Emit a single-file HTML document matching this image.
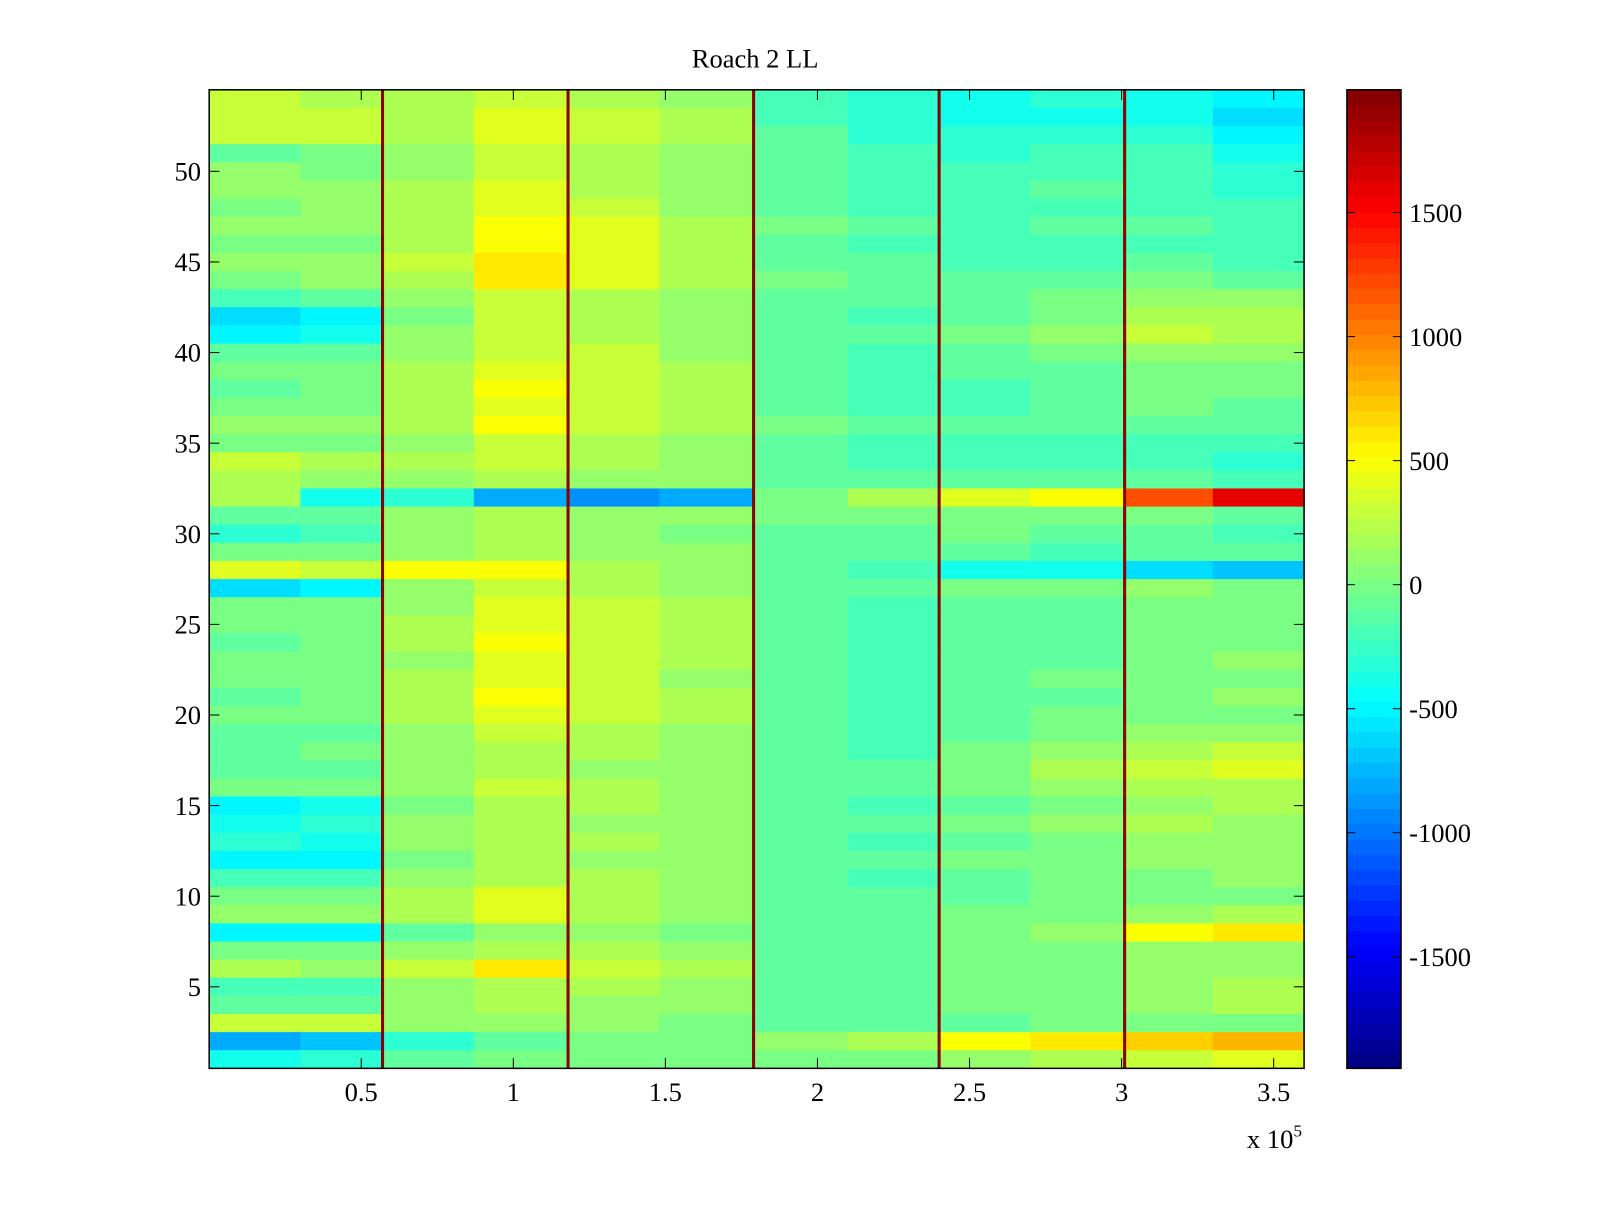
<!DOCTYPE html>
<html><head><meta charset="utf-8"><style>
html,body{margin:0;padding:0;background:#fff;}
svg text{font-family:"Liberation Serif",serif;font-size:26px;fill:#000;}
</style></head><body>
<svg id="fig" width="1600" height="1200" viewBox="0 0 1600 1200" xmlns="http://www.w3.org/2000/svg">
<rect width="1600" height="1200" fill="#fff"/>
<g transform="scale(1.0204)">
<text x="740" y="66" text-anchor="middle">Roach 2 LL</text>
<g id="heat"></g>
<g id="axes"></g>
<g id="cbar"></g>
</g>
</svg>
<script>
// segment boundaries along x (units of 1e5)
const segEdges = [0,0.3,0.57,0.87,1.18,1.48,1.79,2.1,2.4,2.7,3.01,3.3,3.6];
// values in hundreds; rows listed from top (row 54) to bottom (row 1)
const rowValues = [
[3,2,2,3,2,1,-2,-3,-4,-3,-4,-5],
[3,3,2,4,3,2,-2,-3,-4,-4,-4,-6],
[3,3,2,4,3,2,-1,-3,-3,-3,-3,-5],
[-1,0,1,3,2,1,-1,-2,-3,-2,-2,-4],
[1,0,1,3,2,1,-1,-2,-2,-2,-2,-3],
[1,1,2,4,2,1,-1,-2,-2,-1,-2,-3],
[0,1,2,4,3,1,-1,-2,-2,-2,-2,-2],
[1,1,2,5,4,2,0,-1,-2,-1,-1,-2],
[0,0,2,5,4,2,-1,-2,-2,-2,-2,-2],
[1,1,3,6,4,2,-1,-1,-2,-2,-1,-2],
[0,1,2,6,4,2,0,-1,-1,-1,0,-1],
[-2,-1,1,3,2,1,-1,-1,-1,0,1,1],
[-6,-5,0,3,2,1,-1,-2,-1,0,2,2],
[-5,-4,1,3,2,1,-1,-1,0,1,3,2],
[-1,-1,1,3,3,1,-1,-2,-1,0,1,1],
[0,0,2,4,3,2,-1,-2,-1,-1,0,0],
[-1,0,2,5,3,2,-1,-2,-2,-1,0,0],
[0,0,2,4,3,2,-1,-2,-2,-1,0,-1],
[1,1,2,5,3,2,0,-1,-1,-1,-1,-1],
[0,0,1,3,2,1,-1,-2,-2,-2,-2,-2],
[3,2,2,3,2,1,-1,-2,-2,-2,-2,-3],
[2,1,1,2,1,1,-1,-1,-1,-1,-1,-2],
[2,-4,-3,-8,-9,-8,0,2,4,5,12,16],
[-1,-1,1,2,1,1,0,0,0,0,0,-1],
[-3,-2,1,2,1,0,-1,-1,0,-1,-1,-2],
[0,0,1,2,1,1,-1,-1,-1,-2,-1,-1],
[4,3,5,5,2,1,-1,-2,-4,-4,-6,-7],
[-6,-5,1,3,2,1,-1,-1,0,0,1,0],
[0,0,1,4,3,2,-1,-2,-1,-1,0,0],
[0,0,2,4,3,2,-1,-2,-1,-1,0,0],
[-1,0,2,5,3,2,-1,-2,-1,-1,0,0],
[0,0,1,4,3,2,-1,-2,-1,-1,0,1],
[0,0,2,4,3,1,-1,-2,-1,0,0,0],
[-1,0,2,5,3,2,-1,-2,-1,-1,0,1],
[0,0,2,4,3,2,-1,-2,-1,0,0,0],
[-1,-1,1,3,2,1,-1,-2,-1,0,1,1],
[-1,0,1,2,2,1,-1,-2,0,1,2,3],
[-1,-1,1,2,1,1,-1,-1,0,2,3,4],
[0,0,1,3,2,1,-1,-1,0,1,2,2],
[-5,-4,0,2,2,1,-1,-2,-1,0,1,2],
[-4,-3,1,2,1,1,-1,-1,0,1,2,1],
[-3,-4,1,2,2,1,-1,-2,-1,0,1,1],
[-5,-5,0,2,1,1,-1,-1,0,0,1,1],
[-2,-2,1,2,2,1,-1,-2,-1,0,0,1],
[0,0,2,4,2,1,-1,-1,-1,0,0,0],
[1,1,2,4,2,1,-1,-1,0,0,1,2],
[-5,-5,-1,1,1,0,-1,-1,0,1,5,6],
[0,0,1,2,2,1,-1,-1,0,0,1,1],
[2,1,3,6,3,2,-1,-1,0,0,1,1],
[-2,-2,1,2,2,1,-1,-1,0,0,1,2],
[-1,-1,1,2,1,1,-1,-1,0,0,1,2],
[3,3,1,1,1,0,-1,-1,-1,0,0,0],
[-8,-7,-3,-1,0,0,1,2,5,6,7,8],
[-4,-3,-1,0,0,0,0,0,1,2,3,4]
];
const lineX = [0.57,1.18,1.79,2.40,3.01];
const lineValue = 19.5;
const xTicks = [0.5,1,1.5,2,2.5,3,3.5];
const xTickLabels = ["0.5","1","1.5","2","2.5","3","3.5"];
const yTicks = [5,10,15,20,25,30,35,40,45,50];
const cbTicks = [-1500,-1000,-500,0,500,1000,1500];
const cLim = [-1950,1995];

const PX0=205, PX1=1278, PY0=88, PY1=1047;
const xScale = v => PX0 + (v-0)/(3.6-0)*(PX1-PX0);
const yScale = v => PY1 - (v-0.5)/(54.5-0.5)*(PY1-PY0);
function jet(t){
  t=Math.max(0,Math.min(1,t));
  const f=x=>Math.max(0,Math.min(1,x));
  const r=f(1.5-Math.abs(4*t-3)), g=f(1.5-Math.abs(4*t-2)), b=f(1.5-Math.abs(4*t-1));
  return `rgb(${Math.round(r*255)},${Math.round(g*255)},${Math.round(b*255)})`;
}
const colorOf = v => jet(((v*100)-cLim[0])/(cLim[1]-cLim[0]));
const NS='http://www.w3.org/2000/svg';
function mk(tag, attrs, parent){const e=document.createElementNS(NS,tag);for(const k in attrs)e.setAttribute(k,attrs[k]);parent.appendChild(e);return e;}

const heat=document.getElementById('heat');
const nRows=rowValues.length;
rowValues.forEach((row,i)=>{
  const rowNum=nRows-i;
  const yTop=yScale(rowNum+0.5), yBot=yScale(rowNum-0.5);
  row.forEach((v,j)=>{
    const x0=xScale(segEdges[j]), x1=xScale(segEdges[j+1]);
    const r=mk('rect',{x:x0,y:yTop,width:x1-x0+0.5,height:yBot-yTop+0.5,fill:colorOf(v)},heat);
    
    
  });
});
lineX.forEach(lx=>{
  const r=mk('rect',{x:xScale(lx)-1.5,y:PY0,width:3,height:PY1-PY0,fill:colorOf(lineValue)},heat);
  
  
});

const ax=document.getElementById('axes');
mk('rect',{x:PX0,y:PY0,width:PX1-PX0,height:PY1-PY0,fill:'none',stroke:'#000','stroke-width':1.5},ax);
xTicks.forEach((t,i)=>{
  const x=xScale(t);
  mk('line',{x1:x,y1:PY1,x2:x,y2:PY1-10,stroke:'#000'},ax);
  mk('line',{x1:x,y1:PY0,x2:x,y2:PY0+10,stroke:'#000'},ax);
  const tx=mk('text',{x:x,y:1079,'text-anchor':'middle'},ax);tx.textContent=xTickLabels[i];
  
  
});
yTicks.forEach(t=>{
  const y=yScale(t);
  mk('line',{x1:PX0,y1:y,x2:PX0+10,y2:y,stroke:'#000'},ax);
  mk('line',{x1:PX1,y1:y,x2:PX1-10,y2:y,stroke:'#000'},ax);
  const tx=mk('text',{x:197,y:y+9,'text-anchor':'end'},ax);tx.textContent=String(t);
  
  
});
const ex=mk('text',{x:1222,y:1125},ax);ex.innerHTML='x 10<tspan dy="-11" font-size="17">5</tspan>';



const cb=document.getElementById('cbar');
const CX0=1320,CX1=1373;
const cbY = v => PY1 - (v-cLim[0])/(cLim[1]-cLim[0])*(PY1-PY0);
for(let k=0;k<64;k++){
  const y0=PY1-(k+1)*(PY1-PY0)/64;
  mk('rect',{x:CX0,y:y0,width:CX1-CX0,height:(PY1-PY0)/64+0.5,fill:jet((k+0.5)/64)},cb);
}
mk('rect',{x:CX0,y:PY0,width:CX1-CX0,height:PY1-PY0,fill:'none',stroke:'#000','stroke-width':1.5},cb);
cbTicks.forEach(t=>{
  const y=cbY(t);
  mk('line',{x1:CX0,y1:y,x2:CX0+8,y2:y,stroke:'#000'},cb);
  mk('line',{x1:CX1,y1:y,x2:CX1-8,y2:y,stroke:'#000'},cb);
  const tx=mk('text',{x:1381,y:y+9},cb);tx.textContent=String(t);
  
  
});
</script>
</body></html>
